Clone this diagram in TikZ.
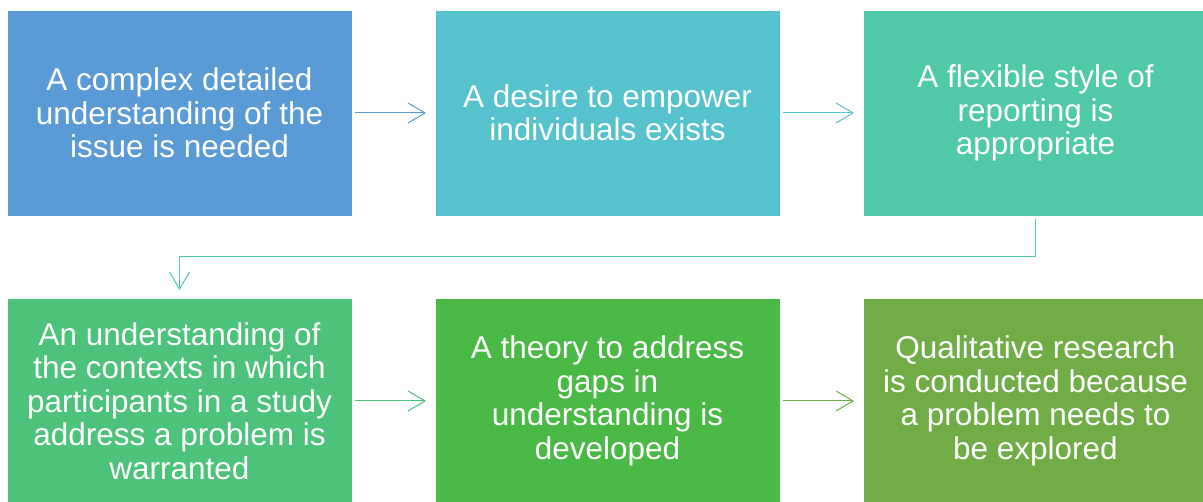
\documentclass[tikz,border=0pt]{standalone}
\usepackage{fontspec}
\setmainfont{Liberation Sans}
\usetikzlibrary{positioning,arrows.meta}
\definecolor{stepblue}{RGB}{91, 155, 213}
\definecolor{stepcyan}{RGB}{86, 194, 206}
\definecolor{stepteal}{RGB}{80, 201, 168}
\definecolor{stepmint}{RGB}{76, 194, 123}
\definecolor{stepgreen}{RGB}{75, 185, 70}
\definecolor{stepolive}{RGB}{112, 173, 71}
\tikzstyle{stage} = [rectangle, draw=white, line width=0.6pt, outer sep=0pt, text=white, align=center, font=\fontsize{31.5}{33.5}\selectfont, minimum width=345pt, minimum height=206pt, inner sep=0pt]
\tikzstyle{flow}  = [line width=1pt, -{Straight Barb[length=17pt,width=20pt]}, shorten <=3pt, shorten >=9pt]

\begin{document}
\begin{tikzpicture}
\useasboundingbox (0,0) rectangle (1203pt,502pt);

% stages =============================
\node[stage, fill=stepblue] (b1) at (179.5pt,389pt) {A complex detailed\\understanding of the\\issue is needed};
\node[stage, fill=stepcyan, right=83pt of b1] (b2) {A desire to empower\\individuals exists};
\node[stage, fill=stepteal, right=83pt of b2] (b3) {A flexible style of\\reporting is\\appropriate};
\node[stage, fill=stepmint, below=82pt of b1] (b4) {An understanding of\\the contexts in which\\participants in a study\\address a problem is\\warranted};
\node[stage, fill=stepgreen, right=83pt of b4] (b5) {A theory to address\\gaps in\\understanding is\\developed};
\node[stage, fill=stepolive, right=83pt of b5] (b6) {Qualitative research\\is conducted because\\a problem needs to\\be explored};

% edges
\draw[flow, stepblue] (b1) -- (b2);
\draw[flow, stepcyan] (b2) -- (b3);
\draw[flow, stepteal, shorten >=8pt] (b3.south) -- ++(0,-41pt) -| (b4.north);
\draw[flow, stepmint] (b4) -- (b5);
\draw[flow, stepolive] (b5) -- (b6);

\end{tikzpicture}
\end{document}
